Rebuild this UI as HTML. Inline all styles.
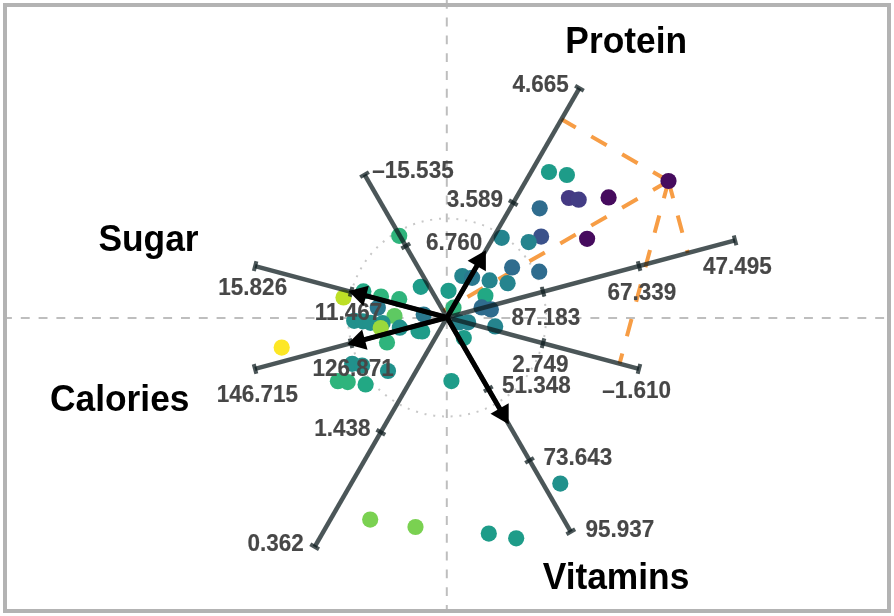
<!DOCTYPE html>
<html><head><meta charset="utf-8"><style>
html,body{margin:0;padding:0;background:#fff;}
svg{display:block;will-change:transform;font-family:"Liberation Sans",sans-serif;font-weight:bold;}
</style></head><body>
<svg width="894" height="616" viewBox="0 0 894 616">
<line x1="3" y1="317.9" x2="891" y2="317.9" stroke="#bebebe" stroke-width="2" stroke-dasharray="8.9 8.9"/>
<line x1="446.8" y1="-0.2" x2="446.8" y2="613" stroke="#bebebe" stroke-width="2" stroke-dasharray="8.9 8.9"/>
<circle cx="447.05" cy="317.5" r="99" fill="none" stroke="#c8c8c8" stroke-width="2" stroke-dasharray="2 6.8"/>
<line x1="668.5" y1="181" x2="561.52" y2="119.23" stroke="#f79d45" stroke-width="4" stroke-dasharray="17.85 17.85"/>
<line x1="668.5" y1="181" x2="619.54" y2="363.72" stroke="#f79d45" stroke-width="4" stroke-dasharray="17.85 17.85"/>
<line x1="668.5" y1="181" x2="687.79" y2="252.99" stroke="#f79d45" stroke-width="4" stroke-dasharray="17.85 17.85"/>
<line x1="668.5" y1="181" x2="443.31" y2="311.02" stroke="#f79d45" stroke-width="4" stroke-dasharray="17.85 17.85"/>
<circle cx="549" cy="172" r="8.1" fill="#1e9c89"/>
<circle cx="566.9" cy="175" r="8.1" fill="#1e9c89"/>
<circle cx="568.9" cy="198" r="8.1" fill="#443983"/>
<circle cx="578.7" cy="199.7" r="8.1" fill="#433d85"/>
<circle cx="608.6" cy="197.4" r="8.1" fill="#460b5e"/>
<circle cx="668.5" cy="181" r="8.1" fill="#460b5e"/>
<circle cx="587.1" cy="238.8" r="8.1" fill="#460b5e"/>
<circle cx="539.7" cy="208.3" r="8.1" fill="#2f6c8e"/>
<circle cx="541.1" cy="236.6" r="8.1" fill="#3b528b"/>
<circle cx="528.7" cy="242.1" r="8.1" fill="#25848e"/>
<circle cx="501.7" cy="237.8" r="8.1" fill="#25848e"/>
<circle cx="512.1" cy="267.4" r="8.1" fill="#2f6c8e"/>
<circle cx="539.2" cy="271.7" r="8.1" fill="#2f6c8e"/>
<circle cx="462.3" cy="276" r="8.1" fill="#25848e"/>
<circle cx="472.1" cy="277.8" r="8.1" fill="#2a788e"/>
<circle cx="489.6" cy="280.4" r="8.1" fill="#25848e"/>
<circle cx="507.6" cy="283.2" r="8.1" fill="#25848e"/>
<circle cx="448.5" cy="290.8" r="8.1" fill="#1e9c89"/>
<circle cx="485.4" cy="295.8" r="8.1" fill="#22a884"/>
<circle cx="453.5" cy="307.7" r="8.1" fill="#2fb47c"/>
<circle cx="481.6" cy="307.4" r="8.1" fill="#2f6c8e"/>
<circle cx="490.9" cy="309.4" r="8.1" fill="#2f6c8e"/>
<circle cx="459.4" cy="322.3" r="8.1" fill="#25848e"/>
<circle cx="468.1" cy="322.3" r="8.1" fill="#25848e"/>
<circle cx="495.2" cy="326.4" r="8.1" fill="#25848e"/>
<circle cx="463.8" cy="338" r="8.1" fill="#1e9c89"/>
<circle cx="451.4" cy="381.1" r="8.1" fill="#1e9c89"/>
<circle cx="423.7" cy="314.6" r="8.1" fill="#2a788e"/>
<circle cx="422.2" cy="331.4" r="8.1" fill="#1e9c89"/>
<circle cx="420.8" cy="286.8" r="8.1" fill="#1e9c89"/>
<circle cx="418.5" cy="331.1" r="8.1" fill="#1e9c89"/>
<circle cx="343.5" cy="297.5" r="8.1" fill="#bddf26"/>
<circle cx="363.4" cy="291.4" r="8.1" fill="#22a884"/>
<circle cx="381" cy="296.5" r="8.1" fill="#2fb47c"/>
<circle cx="399.2" cy="299.2" r="8.1" fill="#2fb47c"/>
<circle cx="399.2" cy="235.8" r="8.1" fill="#2fb47c"/>
<circle cx="377.8" cy="307.8" r="8.1" fill="#2a788e"/>
<circle cx="394.5" cy="316" r="8.1" fill="#5ec962"/>
<circle cx="354.2" cy="320.8" r="8.1" fill="#21918c"/>
<circle cx="362.9" cy="321.3" r="8.1" fill="#21918c"/>
<circle cx="370.5" cy="322.8" r="8.1" fill="#21918c"/>
<circle cx="382.6" cy="323.2" r="8.1" fill="#21918c"/>
<circle cx="380.7" cy="328" r="8.1" fill="#9bd93c"/>
<circle cx="399.8" cy="327.7" r="8.1" fill="#21918c"/>
<circle cx="387" cy="342.4" r="8.1" fill="#2fb47c"/>
<circle cx="352.2" cy="363.8" r="8.1" fill="#21918c"/>
<circle cx="362.1" cy="365.6" r="8.1" fill="#21918c"/>
<circle cx="388" cy="371" r="8.1" fill="#21918c"/>
<circle cx="337.9" cy="381.2" r="8.1" fill="#2fb47c"/>
<circle cx="347.7" cy="382.1" r="8.1" fill="#2fb47c"/>
<circle cx="365.6" cy="384.4" r="8.1" fill="#22a884"/>
<circle cx="281.7" cy="347.6" r="8.1" fill="#fde725"/>
<circle cx="370.2" cy="519.6" r="8.1" fill="#7ad151"/>
<circle cx="415.5" cy="527" r="8.1" fill="#7ad151"/>
<circle cx="488.8" cy="533.6" r="8.1" fill="#1e9c89"/>
<circle cx="516.2" cy="538.3" r="8.1" fill="#1e9c89"/>
<circle cx="560.3" cy="483.6" r="8.1" fill="#21918c"/>
<line x1="314.65" y1="546.82" x2="579.45" y2="88.18" stroke="#0f1e20" stroke-opacity="0.75" stroke-width="4.5"/>
<line x1="318.98" y1="549.32" x2="310.32" y2="544.32" stroke="#0f1e20" stroke-opacity="0.75" stroke-width="4"/>
<line x1="385.18" y1="434.66" x2="376.52" y2="429.66" stroke="#0f1e20" stroke-opacity="0.75" stroke-width="4"/>
<line x1="517.58" y1="205.34" x2="508.92" y2="200.34" stroke="#0f1e20" stroke-opacity="0.75" stroke-width="4"/>
<line x1="583.78" y1="90.68" x2="575.12" y2="85.68" stroke="#0f1e20" stroke-opacity="0.75" stroke-width="4"/>
<line x1="255.12" y1="266.07" x2="638.98" y2="368.93" stroke="#0f1e20" stroke-opacity="0.75" stroke-width="4.5"/>
<line x1="253.83" y1="270.90" x2="256.41" y2="261.24" stroke="#0f1e20" stroke-opacity="0.75" stroke-width="4"/>
<line x1="349.79" y1="296.62" x2="352.38" y2="286.96" stroke="#0f1e20" stroke-opacity="0.75" stroke-width="4"/>
<line x1="541.72" y1="348.04" x2="544.31" y2="338.38" stroke="#0f1e20" stroke-opacity="0.75" stroke-width="4"/>
<line x1="637.69" y1="373.76" x2="640.27" y2="364.10" stroke="#0f1e20" stroke-opacity="0.75" stroke-width="4"/>
<line x1="255.02" y1="368.95" x2="735.09" y2="240.32" stroke="#0f1e20" stroke-opacity="0.75" stroke-width="4.5"/>
<line x1="256.32" y1="373.78" x2="253.73" y2="364.12" stroke="#0f1e20" stroke-opacity="0.75" stroke-width="4"/>
<line x1="352.33" y1="348.06" x2="349.74" y2="338.40" stroke="#0f1e20" stroke-opacity="0.75" stroke-width="4"/>
<line x1="544.36" y1="296.60" x2="541.77" y2="286.94" stroke="#0f1e20" stroke-opacity="0.75" stroke-width="4"/>
<line x1="640.37" y1="270.88" x2="637.78" y2="261.22" stroke="#0f1e20" stroke-opacity="0.75" stroke-width="4"/>
<line x1="736.38" y1="245.15" x2="733.79" y2="235.49" stroke="#0f1e20" stroke-opacity="0.75" stroke-width="4"/>
<line x1="364.55" y1="174.61" x2="570.80" y2="531.84" stroke="#0f1e20" stroke-opacity="0.75" stroke-width="4.5"/>
<line x1="360.22" y1="177.11" x2="368.88" y2="172.11" stroke="#0f1e20" stroke-opacity="0.75" stroke-width="4"/>
<line x1="401.47" y1="248.55" x2="410.13" y2="243.55" stroke="#0f1e20" stroke-opacity="0.75" stroke-width="4"/>
<line x1="483.97" y1="391.45" x2="492.63" y2="386.45" stroke="#0f1e20" stroke-opacity="0.75" stroke-width="4"/>
<line x1="525.22" y1="462.89" x2="533.88" y2="457.89" stroke="#0f1e20" stroke-opacity="0.75" stroke-width="4"/>
<line x1="566.47" y1="534.34" x2="575.13" y2="529.34" stroke="#0f1e20" stroke-opacity="0.75" stroke-width="4"/>
<g><g transform="translate(512.60,92.40) scale(1,1.08)"><text x="0" y="0" font-size="22.5" fill="#474747" stroke="#474747" stroke-width="0.15">4.665</text></g></g>
<g><g transform="translate(446.65,207.00) scale(1,1.08)"><text x="0" y="0" font-size="22.5" fill="#474747" stroke="#474747" stroke-width="0.15">3.589</text></g></g>
<g><g transform="translate(372.35,178.40) scale(1,1.08)"><text x="0" y="0" font-size="22.5" fill="#474747" stroke="#474747" stroke-width="0.15">–15.535</text></g></g>
<g><g transform="translate(425.90,250.00) scale(1,1.08)"><text x="0" y="0" font-size="22.5" fill="#474747" stroke="#474747" stroke-width="0.15">6.760</text></g></g>
<g><g transform="translate(218.35,294.60) scale(1,1.08)"><text x="0" y="0" font-size="22.5" fill="#474747" stroke="#474747" stroke-width="0.15">15.826</text></g></g>
<g><g transform="translate(314.70,320.35) scale(1,1.08)"><text x="0" y="0" font-size="22.5" fill="#474747" stroke="#474747" stroke-width="0.15">11.467</text></g></g>
<g><g transform="translate(607.55,299.70) scale(1,1.08)"><text x="0" y="0" font-size="22.5" fill="#474747" stroke="#474747" stroke-width="0.15">67.339</text></g></g>
<g><g transform="translate(702.90,273.70) scale(1,1.08)"><text x="0" y="0" font-size="22.5" fill="#474747" stroke="#474747" stroke-width="0.15">47.495</text></g></g>
<g><g transform="translate(511.40,324.80) scale(1,1.08)"><text x="0" y="0" font-size="22.5" fill="#474747" stroke="#474747" stroke-width="0.15">87.183</text></g></g>
<g><g transform="translate(312.55,376.45) scale(1,1.08)"><text x="0" y="0" font-size="22.5" fill="#474747" stroke="#474747" stroke-width="0.15">126.871</text></g></g>
<g><g transform="translate(216.80,402.10) scale(1,1.08)"><text x="0" y="0" font-size="22.5" fill="#474747" stroke="#474747" stroke-width="0.15">146.715</text></g></g>
<g><g transform="translate(512.25,371.70) scale(1,1.08)"><text x="0" y="0" font-size="22.5" fill="#474747" stroke="#474747" stroke-width="0.15">2.749</text></g></g>
<g><g transform="translate(501.95,393.00) scale(1,1.08)"><text x="0" y="0" font-size="22.5" fill="#474747" stroke="#474747" stroke-width="0.15">51.348</text></g></g>
<g><g transform="translate(602.25,397.60) scale(1,1.08)"><text x="0" y="0" font-size="22.5" fill="#474747" stroke="#474747" stroke-width="0.15">–1.610</text></g></g>
<g><g transform="translate(314.30,435.80) scale(1,1.08)"><text x="0" y="0" font-size="22.5" fill="#474747" stroke="#474747" stroke-width="0.15">1.438</text></g></g>
<g><g transform="translate(543.55,464.60) scale(1,1.08)"><text x="0" y="0" font-size="22.5" fill="#474747" stroke="#474747" stroke-width="0.15">73.643</text></g></g>
<g><g transform="translate(247.45,550.50) scale(1,1.08)"><text x="0" y="0" font-size="22.5" fill="#474747" stroke="#474747" stroke-width="0.15">0.362</text></g></g>
<g><g transform="translate(585.55,536.60) scale(1,1.08)"><text x="0" y="0" font-size="22.5" fill="#474747" stroke="#474747" stroke-width="0.15">95.937</text></g></g>
<g><g transform="translate(565.35,53.30) scale(1,1.06)"><text x="0" y="0" font-size="35.35" fill="#000" stroke="#000" stroke-width="0">Protein</text></g></g>
<g><g transform="translate(98.40,251.05) scale(1,1.06)"><text x="0" y="0" font-size="35.35" fill="#000" stroke="#000" stroke-width="0">Sugar</text></g></g>
<g><g transform="translate(50.00,410.65) scale(1,1.06)"><text x="0" y="0" font-size="35.35" fill="#000" stroke="#000" stroke-width="0">Calories</text></g></g>
<g><g transform="translate(542.70,588.50) scale(1,1.06)"><text x="0" y="0" font-size="35.35" fill="#000" stroke="#000" stroke-width="0">Vitamins</text></g></g>
<line x1="447.05" y1="317.5" x2="480.85" y2="258.96" stroke="#000" stroke-width="5"/>
<polygon points="485.85,250.30 485.85,271.30 467.66,260.80" fill="#000"/>
<line x1="447.05" y1="317.5" x2="358.18" y2="293.69" stroke="#000" stroke-width="5"/>
<polygon points="348.53,291.10 368.81,285.67 363.37,305.95" fill="#000"/>
<line x1="447.05" y1="317.5" x2="356.93" y2="341.65" stroke="#000" stroke-width="5"/>
<polygon points="347.27,344.24 362.12,329.39 367.55,349.67" fill="#000"/>
<line x1="447.05" y1="317.5" x2="503.70" y2="415.62" stroke="#000" stroke-width="5"/>
<polygon points="508.70,424.28 490.51,413.78 508.70,403.28" fill="#000"/>
<rect x="5" y="5" width="884" height="606" fill="none" stroke="#b3b3b3" stroke-width="4"/>
</svg>
</body></html>
